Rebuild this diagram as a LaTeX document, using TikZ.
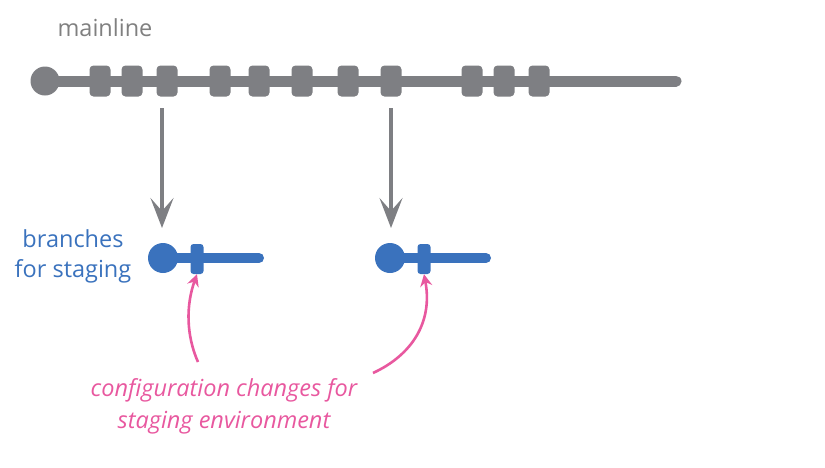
\documentclass[tikz,border=0pt]{standalone}
\usepackage{fontspec}
\setmainfont{Open Sans}
\usetikzlibrary{arrows.meta}
\definecolor{cgray}{HTML}{7E7F83}
\definecolor{tgray}{HTML}{808080}
\definecolor{cblue}{HTML}{3A72BD}
\definecolor{cpink}{HTML}{E8589F}
\tikzset{
  root/.style={circle,fill=#1,minimum size=29pt,inner sep=0pt},
  commit/.style={rounded corners=4pt,fill=cgray,minimum width=21pt,minimum height=31pt,inner sep=0pt},
  bcommit/.style={rounded corners=3pt,fill=cblue,minimum width=13pt,minimum height=30pt,inner sep=0pt},
  trunk/.style={line width=11pt,line cap=round,#1},
  grayarrow/.style={line width=3.2pt,cgray,-{Stealth[length=30pt,width=23pt,inset=13pt]}},
  pinkarrow/.style={line width=2.6pt,cpink,-{Stealth[length=12pt,width=12pt,inset=4pt]}},
  lbl/.style={font=\fontsize{23.5}{30}\selectfont,align=center,inner sep=0pt}
}
\begin{document}
\begin{tikzpicture}[x=1pt,y=-1pt]
\useasboundingbox (0,0) rectangle (825,467);
% mainline
\coordinate (mend) at (676,81);
\node[root=cgray] (m0) at (45,81) {};
\draw[trunk=cgray] (m0.center) -- (mend);
\foreach \x [count=\i] in {100,132,167,220,259,302,348,391,472,504,539}
  \node[commit] (c\i) at (\x,81) {};
\node[lbl,text=tgray,anchor=base] (mainlbl) at (105,36) {mainline};
% branches
\coordinate (b1end) at (259,258);
\coordinate (b2end) at (486,258);
\draw[trunk=cblue,line width=10pt] (163,258) -- (b1end);
\draw[trunk=cblue,line width=10pt] (390,258) -- (b2end);
\node[root=cblue,minimum size=30pt] (b1) at (163,258) {};
\node[root=cblue,minimum size=30pt] (b2) at (390,258) {};
\node[bcommit] (bc1) at (197,259) {};
\node[bcommit] (bc2) at (424,259) {};
% gray arrows
\coordinate (a1s) at (162,108);
\coordinate (a1e) at (162,228);
\coordinate (a2s) at (391,108);
\coordinate (a2e) at (391,228);
\draw[grayarrow] (a1s) -- (a1e);
\draw[grayarrow] (a2s) -- (a2e);
% labels
\node[lbl,text=cblue] (brlbl) at (73,256) {branches\\for staging};
\node[lbl,text=cpink,font=\fontsize{23.5}{32}\itshape] (cfglbl) at (224,406) {configuration changes for\\staging environment};
% pink arrows
\coordinate (p1s) at (198,362);
\coordinate (p2s) at (373,373);
\draw[pinkarrow] (p1s) .. controls (186,335) and (186,305) .. (bc1.south);
\draw[pinkarrow] (p2s) .. controls (412,355) and (433,322) .. (bc2.south);
\end{tikzpicture}
\end{document}
